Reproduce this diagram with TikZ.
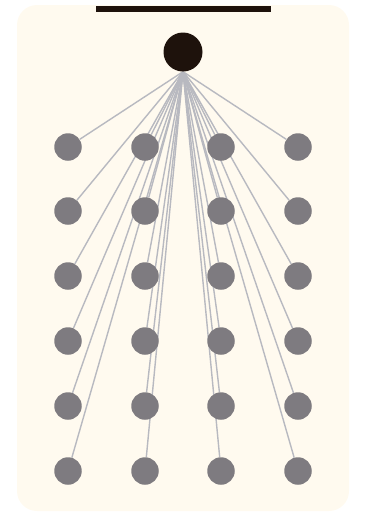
\documentclass[tikz,border=0pt]{standalone}
\usepackage{tikz}
\definecolor{fancream}{RGB}{255,250,239}
\definecolor{fandark}{RGB}{30,18,12}
\definecolor{fangray}{RGB}{126,123,128}
\definecolor{fanline}{RGB}{184,185,192}
\pgfdeclarelayer{panel}
\pgfdeclarelayer{spokes}
\pgfsetlayers{panel,spokes,main}

\begin{document}
\begin{tikzpicture}[x=1pt, y=-1pt,
  hub/.style={circle, fill=fandark, inner sep=0pt, minimum size=39pt},
  leaf/.style={circle, fill=fangray, inner sep=0pt, minimum size=27.5pt},
  spoke/.style={draw=fanline, line width=1.4pt}]
\useasboundingbox (0, 0) rectangle (377, 512);

% Panel
\begin{pgfonlayer}{panel}
\fill[fancream, rounded corners=20pt] (17, 5) rectangle (349, 511);
\end{pgfonlayer}

% Top bar
\fill[fandark] (96, 6) rectangle (271, 12);

% Hub
\node[hub] (hub) at (183, 52) {};

% Leaves
\foreach \i/\x in {1/68, 2/145, 3/221, 4/298} {
  \foreach \j/\y in {1/147, 2/211, 3/276, 4/341, 5/406, 6/471} {
    \node[leaf] (leaf-\i-\j) at (\x, \y) {};
  }
}

% Spokes (behind the circles)
\begin{pgfonlayer}{spokes}
\foreach \i in {1,...,4} {
  \foreach \j in {1,...,6} {
    \draw[spoke] (hub.south) -- (leaf-\i-\j);
  }
}
\end{pgfonlayer}
\end{tikzpicture}
\end{document}
